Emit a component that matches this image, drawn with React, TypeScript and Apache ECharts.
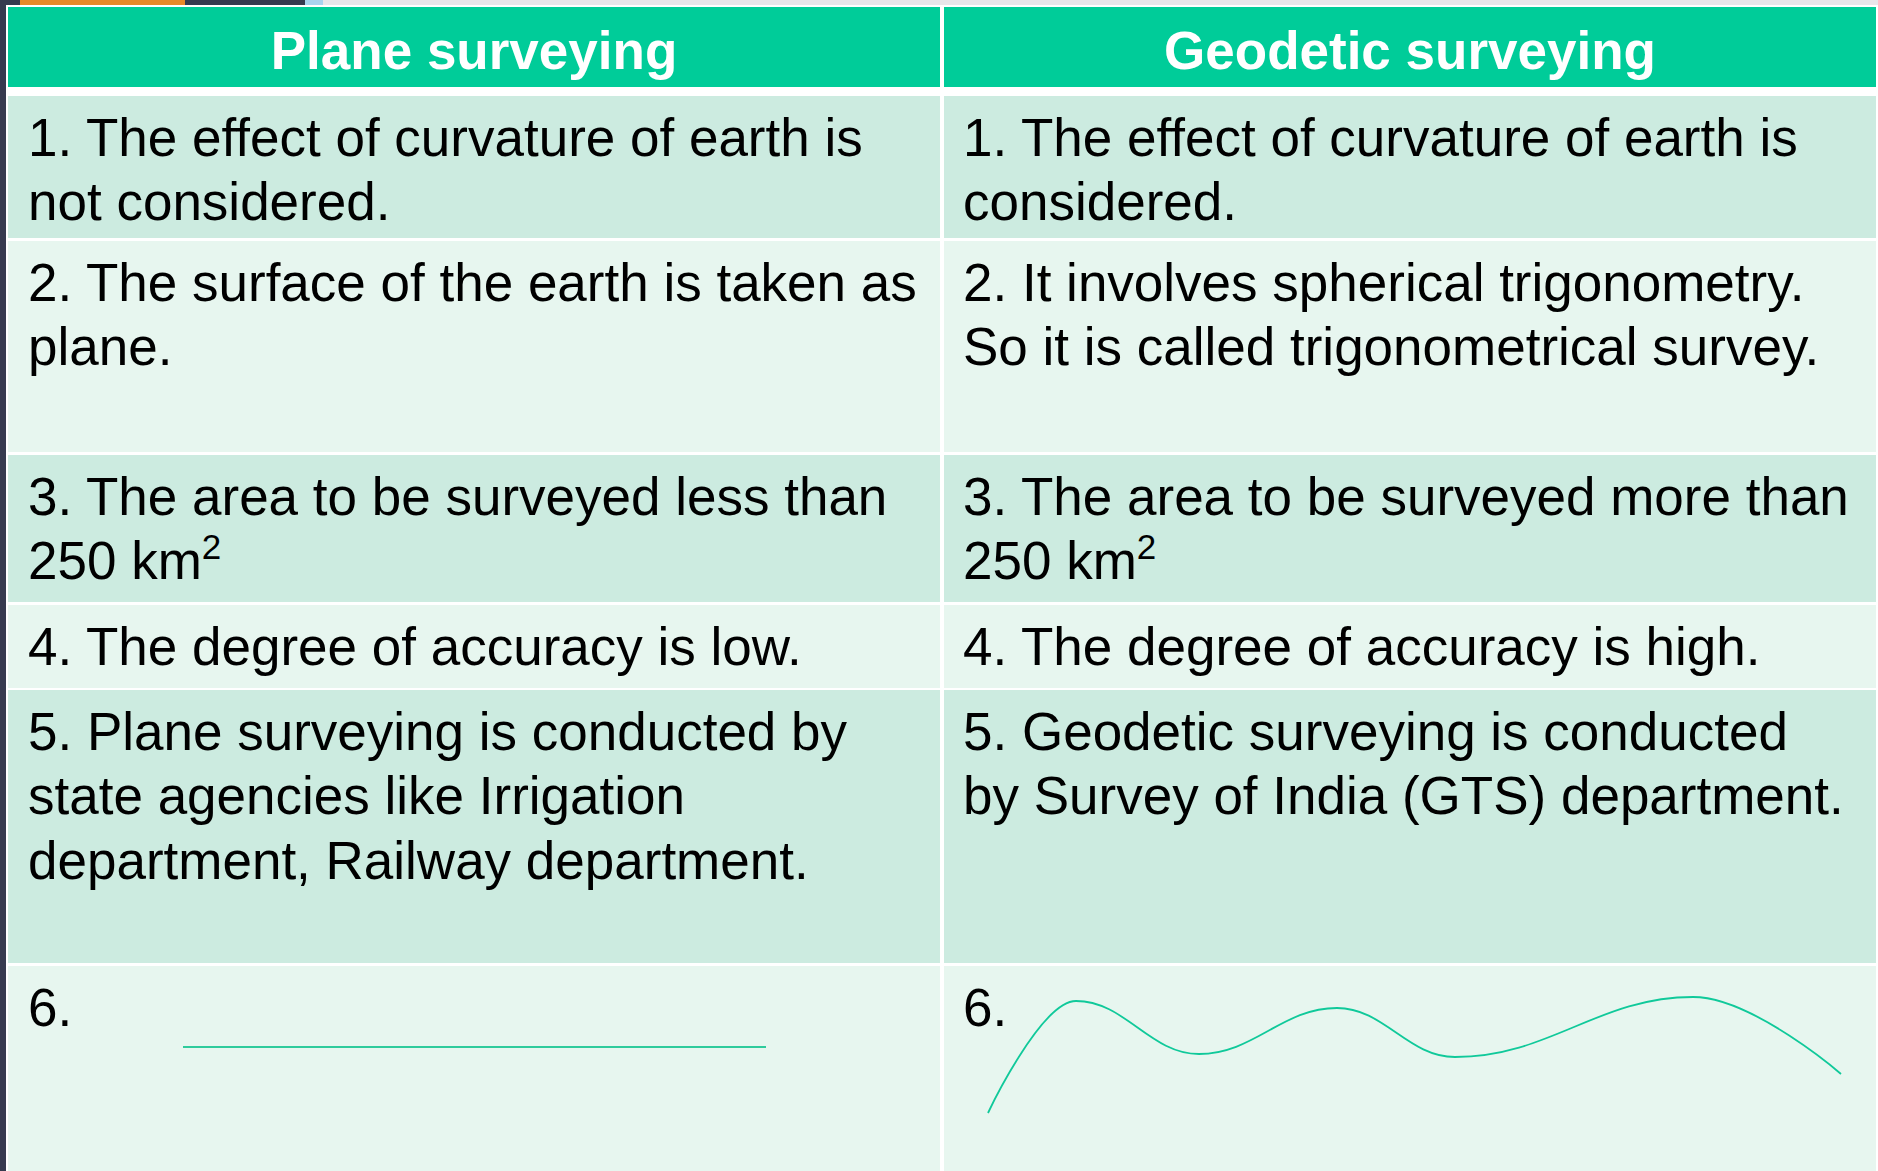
import React, { useEffect, useRef } from "react";
import * as echarts from "echarts";

// ---- content ----
const headers = ["Plane surveying", "Geodetic surveying"];
const planeItems = [
  "1. The effect of curvature of earth is\nnot considered.",
  "2. The surface of the earth is taken as\nplane.",
  "3. The area to be surveyed less than\n250 km{sup|2}",
  "4. The degree of accuracy is low.",
  "5. Plane surveying is conducted by\nstate agencies like Irrigation\ndepartment, Railway department.",
  "6.",
];
const geodeticItems = [
  "1. The effect of curvature of earth is\nconsidered.",
  "2. It involves spherical trigonometry.\nSo it is called trigonometrical survey.",
  "3. The area to be surveyed more than\n250 km{sup|2}",
  "4. The degree of accuracy is high.",
  "5. Geodetic surveying is conducted\nby Survey of India (GTS) department.",
  "6.",
];

// sketch in row 6 (page pixel units)
const planeLineX = [183, 766];
const planeLineY = [1047, 1047];
const geodeticCurveX = [988, 1076, 1199, 1337, 1455, 1693, 1841];
const geodeticCurveY = [1113, 1001, 1054, 1008, 1057, 997, 1074];

// ---- layout ----
const W = 1878;
const H = 1171;
const COLS = [
  { x0: 8, x1: 940, tx: 28 },
  { x0: 944, x1: 1876, tx: 963 },
];
const HEADER = { y0: 7, y1: 87 };
const ROWS = [
  [96, 238],
  [241, 452],
  [455, 602],
  [605, 688],
  [690, 963],
  [966, 1171],
];
const FONT = '"Liberation Sans", Arial, Helvetica, sans-serif';
const FS = 53;
const LH = 64.5;
const ACCENT = "#00CC99";
const DARK_ROW = "#CCEBE0";
const LIGHT_ROW = "#E7F6EF";

export default function App() {
  const ref = useRef<HTMLDivElement>(null);
  useEffect(() => {
    document.body.style.margin = "0";
    const chart = echarts.init(ref.current!, null, { renderer: "svg" });
    const g: any[] = [];
    // page background pieces
    g.push({ type: "rect", shape: { x: 0, y: 0, width: W, height: H }, style: { fill: "#ffffff" }, z: 0 });
    g.push({ type: "rect", shape: { x: 0, y: 0, width: 6, height: H }, style: { fill: "#363A4F" }, z: 1 });
    g.push({ type: "rect", shape: { x: 0, y: 0, width: 305, height: 5 }, style: { fill: "#363A4F" }, z: 1 });
    g.push({ type: "rect", shape: { x: 20, y: 0, width: 165, height: 5 }, style: { fill: "#E8892A" }, z: 1 });
    g.push({ type: "rect", shape: { x: 305, y: 0, width: 18, height: 5 }, style: { fill: "#A9D3EE" }, z: 1 });
    g.push({ type: "rect", shape: { x: 323, y: 0, width: W - 323, height: 5 }, style: { fill: "#E8E6EA" }, z: 1 });

    COLS.forEach((c, ci) => {
      g.push({
        type: "rect",
        shape: { x: c.x0, y: HEADER.y0, width: c.x1 - c.x0, height: HEADER.y1 - HEADER.y0 },
        style: { fill: ACCENT },
        z: 2,
      });
      g.push({
        type: "text",
        x: (c.x0 + c.x1) / 2,
        y: (HEADER.y0 + HEADER.y1) / 2 + 3,
        style: {
          text: headers[ci],
          fill: "#ffffff",
          font: `bold ${FS}px ${FONT}`,
          align: "center",
          verticalAlign: "middle",
        },
        z: 3,
      });
      const items = ci === 0 ? planeItems : geodeticItems;
      ROWS.forEach((r, ri) => {
        g.push({
          type: "rect",
          shape: { x: c.x0, y: r[0], width: c.x1 - c.x0, height: r[1] - r[0] },
          style: { fill: ri % 2 === 0 ? DARK_ROW : LIGHT_ROW },
          z: 2,
        });
        g.push({
          type: "text",
          x: c.tx,
          y: r[0] + 9,
          style: {
            text: items[ri],
            fill: "#000000",
            font: `${FS}px ${FONT}`,
            lineHeight: LH,
            align: "left",
            verticalAlign: "top",
            rich: {
              sup: {
                font: `35px ${FONT}`,
                fill: "#000000",
                lineHeight: 50,
                verticalAlign: "top",
              },
            },
          },
          z: 3,
        });
      });
    });

    chart.setOption({
      animation: false,
      grid: { left: 0, top: 0, right: 0, bottom: 0 },
      xAxis: { type: "value", min: 0, max: W, show: false },
      yAxis: { type: "value", min: 0, max: H, inverse: true, show: false },
      graphic: { elements: g },
      series: [
        {
          type: "line",
          data: planeLineX.map((x, i) => [x, planeLineY[i]]),
          symbol: "none",
          lineStyle: { color: "#2FCB9C", width: 2 },
          z: 10,
          silent: true,
        },
        {
          type: "line",
          data: geodeticCurveX.map((x, i) => [x, geodeticCurveY[i]]),
          symbol: "none",
          smooth: 0.4,
          smoothMonotone: "x",
          lineStyle: { color: "#10C99A", width: 1.8 },
          z: 10,
          silent: true,
        },
      ],
    });
    return () => chart.dispose();
  }, []);
  return <div ref={ref} style={{ width: W, height: H }} />;
}
